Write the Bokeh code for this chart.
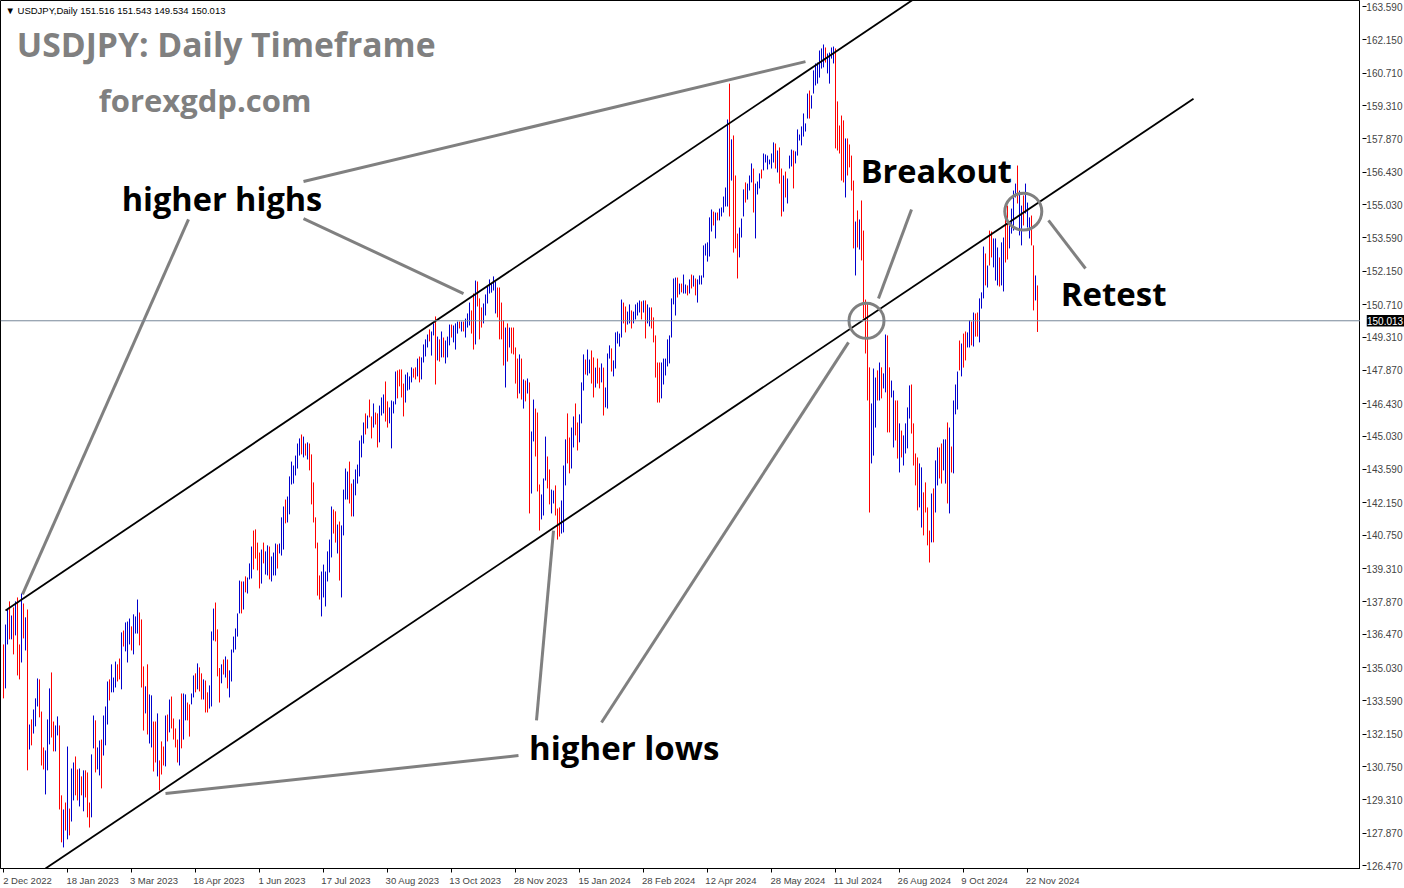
from bokeh.plotting import figure
from bokeh.layouts import row
from bokeh.models import (Range1d, FixedTicker, Span, Label, NumeralTickFormatter,
                          ColumnDataSource)
from bokeh.core.properties import value
from bokeh.embed import file_html
from bokeh.resources import INLINE

# ---------------- data ----------------
HIGH = [
    136.03,136.89,137.54,137.89,137.28,137.63,137.89,138.06,136.03,138.23,
    137.80,137.20,137.54,132.57,132.79,133.22,133.70,134.56,134.52,133.13,
    131.58,131.45,132.79,134.13,134.82,132.70,132.53,132.92,132.53,129.51,
    128.90,129.20,131.62,128.94,130.67,130.93,131.19,130.63,130.67,130.33,
    130.59,130.59,130.50,129.20,131.28,132.96,132.75,131.58,131.88,131.92,
    132.96,133.35,134.43,134.52,135.17,134.60,135.29,135.17,135.42,136.55,
    136.63,136.98,137.02,137.15,136.81,137.33,137.24,137.97,137.41,137.11,
    135.08,134.22,135.17,133.87,133.83,132.70,132.70,133.05,131.02,131.84,
    131.62,132.96,133.00,133.65,133.78,132.83,132.40,131.92,132.79,133.91,
    133.91,133.87,133.52,133.44,133.91,134.69,134.78,135.21,135.04,134.78,
    134.52,134.47,133.96,134.26,136.59,137.58,137.84,136.68,135.01,135.17,
    135.38,135.51,135.38,134.91,135.81,136.37,136.72,137.37,138.79,138.75,
    138.75,138.97,138.92,139.53,140.26,140.95,141.00,140.43,140.00,140.13,
    140.43,140.05,140.31,140.26,139.83,140.00,140.39,140.35,140.39,141.52,
    141.99,142.29,142.42,143.29,143.93,143.76,144.19,144.71,144.93,145.10,
    145.01,144.71,144.76,144.71,144.24,143.03,141.52,140.43,139.01,139.18,
    139.48,139.18,140.05,140.56,141.99,141.86,141.78,141.21,141.34,141.17,
    142.72,143.63,143.50,143.93,142.98,143.16,143.59,143.80,144.84,145.06,
    145.62,146.01,145.92,146.61,145.88,146.44,146.05,146.01,146.35,146.70,
    146.83,147.39,146.53,146.27,146.57,146.53,147.82,147.87,147.91,147.91,
    147.30,147.69,147.78,147.61,148.00,147.95,148.00,148.38,148.47,148.43,
    148.99,149.21,149.42,149.64,149.55,149.90,150.20,149.33,149.21,149.55,
    149.29,149.16,149.33,149.85,149.85,149.81,149.90,149.98,149.98,149.98,
    149.98,150.11,150.33,150.80,150.46,151.19,151.75,151.71,150.98,150.59,
    150.76,151.15,151.49,151.80,151.62,151.93,151.71,151.45,151.45,150.80,
    150.03,149.72,149.90,149.72,149.72,149.72,148.86,148.38,148.56,148.38,
    147.48,147.43,147.52,147.35,145.23,146.61,146.22,146.05,142.94,142.51,
    143.20,145.01,144.15,143.59,142.72,142.68,142.90,141.90,141.95,142.25,
    143.76,144.89,146.01,144.97,145.40,145.88,146.44,145.62,145.97,147.35,
    148.56,148.34,148.77,148.34,148.73,148.43,147.99,148.38,147.99,148.17,
    147.99,147.13,148.60,148.95,148.82,148.30,149.51,149.55,149.46,150.93,
    150.80,150.63,150.41,150.72,150.46,150.41,150.72,150.80,150.89,150.85,
    150.89,150.89,150.72,150.59,150.59,150.16,149.38,148.21,148.21,148.21,
    148.38,148.38,149.21,149.38,150.98,151.84,151.88,151.88,151.62,151.62,
    152.01,151.58,151.54,151.80,152.01,151.97,151.84,151.80,151.97,151.97,
    153.27,153.35,153.40,154.48,154.82,154.73,154.69,154.69,154.86,154.91,
    155.38,155.77,158.71,160.26,157.85,158.02,156.29,153.78,154.04,154.43,
    155.69,155.99,155.94,156.29,156.81,156.59,155.94,156.03,156.38,156.55,
    157.24,157.20,157.15,156.98,157.24,157.72,157.67,157.37,157.50,156.59,
    156.29,156.46,156.16,157.15,157.41,157.37,157.33,158.28,158.06,158.41,
    158.97,158.54,159.83,159.96,159.75,160.83,161.13,161.17,161.69,161.78,
    161.95,161.82,161.56,161.60,161.82,161.86,161.78,159.49,158.45,158.88,
    158.67,157.89,157.89,157.63,157.15,156.07,154.30,154.78,154.39,155.21,
    153.91,150.93,150.76,148.00,146.44,147.95,147.56,147.87,148.21,148.00,
    147.74,149.42,149.38,148.00,147.43,147.00,146.57,146.57,145.58,145.27,
    145.06,145.58,146.27,147.22,147.26,145.58,144.28,144.11,143.85,143.68,
    142.60,143.03,141.95,140.95,142.55,142.77,143.98,144.54,144.54,144.71,
    144.89,144.89,145.62,145.40,144.58,146.57,147.26,147.82,149.16,149.03,
    149.46,149.55,149.51,150.03,149.98,150.37,150.33,150.37,150.98,151.24,
    153.22,152.92,152.40,153.91,153.87,153.57,153.57,153.18,152.75,153.40,
    153.61,154.69,154.99,154.22,154.86,155.64,155.94,156.72,155.64,154.99,
    155.43,155.94,155.12,154.48,154.56,153.27,151.97,151.54,
]
LOW = [
    133.70,134.13,136.03,136.25,136.25,135.60,136.42,134.69,134.52,135.25,
    136.29,135.77,130.59,131.49,131.67,132.18,132.49,133.35,132.88,130.80,
    130.63,129.55,130.59,131.71,132.01,131.41,131.41,132.10,128.90,127.48,
    127.26,127.99,127.61,127.78,128.38,129.29,129.51,129.29,129.03,129.51,
    128.82,129.42,128.56,128.12,128.56,131.54,130.50,130.63,130.37,129.81,
    131.23,131.67,132.57,133.61,133.96,133.96,134.17,134.43,134.52,134.09,
    135.94,135.73,135.25,136.03,135.77,135.60,136.50,136.50,135.99,134.17,
    132.31,133.05,132.14,131.75,131.58,130.54,130.93,130.33,129.72,130.41,
    130.80,130.76,131.84,132.23,132.40,131.92,131.58,130.93,130.80,131.54,
    131.92,132.75,132.75,132.05,133.44,133.74,133.96,134.09,134.00,133.65,
    133.65,133.09,133.09,133.26,133.35,136.20,136.16,134.65,133.52,134.35,
    134.73,134.60,134.13,133.74,134.43,135.68,135.81,136.37,137.37,137.37,
    137.54,138.28,138.23,138.84,138.88,139.27,139.74,139.23,138.45,138.66,
    139.53,139.05,139.01,138.84,138.75,139.01,139.01,139.31,139.96,139.87,
    140.13,141.26,141.30,141.65,142.94,142.98,143.33,143.63,144.19,144.24,
    144.11,144.19,144.02,143.55,142.08,141.30,140.18,138.14,137.97,137.24,
    138.06,137.67,138.75,139.14,139.79,140.82,140.43,139.96,138.79,138.06,
    140.74,142.29,142.29,142.12,141.56,141.56,142.47,142.98,143.29,144.11,
    144.71,145.10,145.36,145.84,144.93,145.40,145.53,144.54,144.76,145.92,
    146.01,145.66,145.40,145.58,144.50,146.01,146.40,146.66,147.18,146.70,
    145.88,146.48,147.00,147.04,147.35,147.56,147.48,147.61,147.35,147.48,
    148.21,148.47,148.86,149.12,148.51,149.38,147.26,148.30,148.25,148.43,
    148.43,148.17,148.43,148.95,149.29,149.08,148.77,149.46,149.68,149.55,
    149.55,149.29,149.72,149.81,149.46,148.77,148.99,150.63,149.21,149.72,
    149.90,150.24,150.76,151.19,151.23,151.32,150.33,150.16,149.21,149.21,
    148.08,147.13,148.25,148.86,148.60,148.56,147.30,146.66,146.87,146.61,
    146.22,146.53,146.87,141.69,142.55,144.80,144.15,142.64,140.95,141.43,
    141.60,143.11,142.77,142.08,141.69,142.12,141.60,140.56,140.69,140.82,
    140.87,142.90,143.85,143.42,143.63,144.54,145.06,144.41,144.76,145.58,
    147.00,147.69,147.65,147.74,147.30,146.70,147.13,147.30,147.09,147.35,
    145.92,146.27,146.22,148.38,147.82,147.61,147.95,149.03,148.90,149.29,
    149.90,149.51,149.85,149.90,149.68,149.90,150.07,150.24,150.37,150.07,
    150.37,149.25,149.90,149.77,149.68,149.08,147.56,146.48,146.48,146.66,
    147.26,147.65,148.04,148.17,149.29,150.72,150.24,151.02,151.15,151.24,
    151.19,151.19,151.11,151.19,151.41,151.49,151.11,150.80,151.58,151.58,
    151.88,152.83,152.57,152.79,153.87,154.13,153.57,154.35,154.35,154.52,
    154.69,154.95,154.95,154.52,156.07,152.96,153.14,151.84,152.75,153.61,
    154.52,155.12,155.25,155.64,155.99,154.69,153.57,155.47,155.73,156.16,
    156.51,156.85,156.55,156.77,156.59,156.85,156.59,156.42,155.94,154.52,
    154.73,155.34,155.08,156.59,156.68,155.73,156.81,157.15,157.80,157.59,
    157.97,158.19,158.75,158.75,159.18,159.83,160.18,160.26,160.52,160.91,
    160.96,161.17,160.70,160.26,161.34,161.13,157.46,157.37,157.24,156.07,
    155.99,155.34,156.29,156.64,155.64,153.14,151.97,153.18,153.09,152.62,
    150.11,148.60,146.57,141.73,143.85,144.19,145.40,146.57,146.57,146.66,
    147.09,146.92,145.19,145.19,146.70,144.54,144.84,144.06,143.46,144.11,
    143.76,144.28,144.50,145.79,145.14,143.76,142.90,141.82,141.95,141.08,
    140.74,141.73,140.31,139.57,140.44,140.44,141.73,142.90,143.20,142.98,
    143.55,142.98,142.12,141.69,143.46,143.42,145.97,146.18,147.87,147.61,
    147.99,148.30,148.86,148.86,148.95,148.90,149.33,149.33,149.08,150.54,
    150.98,151.54,151.45,152.40,152.75,152.32,151.75,151.54,151.49,151.54,
    151.28,152.53,152.66,153.14,153.78,153.91,155.34,155.08,153.70,153.27,
    154.13,154.65,154.04,153.57,153.27,150.46,150.89,149.53,
]
# u = bullish bar (blue), d = bearish bar (red)
DIRECTION = (
    "duudududdu dududuuudd duuudduudd ududuuddud uddduuduud "
    "uuuduuuddu duuuduuudd duduuddudd dududdddud uudduududd "
    "udduuudddu duduuuuuud uduuuddddu duuduuuduu uduuuuuuud "
    "ududdddddu uuuuuddudu uuudduuuuu ududdudduu udduuuuddd "
    "duuuuddudu uuuduududu duuuduuudu duuudduddd uuuuuuuddd "
    "dududdddud ududuudddu uudduudddu uudduudduu uduudduddu "
    "duuuduuuuu dduuduuuud uduudddddu uuuuuuudud uudududuuu "
    "uuuuududuu uuududdduu uduuuduuud uuuuuududd uduuuduuuu "
    "uuuduuuuuu uduuuudddd duddddudud dddduuudud uudduuddud "
    "uuuudddduu dddduduudd uududuuudu dduududduu ududduuudu "
    "udduuuuduu duuuddud"
).replace(" ", "")

CLOSE_LAST = 150.013
HEADER = "\u25bc USDJPY,Daily  151.516 151.543 149.534 150.013"

PRICE_TICKS = [163.59, 162.15, 160.71, 159.31, 157.87, 156.43, 155.03, 153.59,
               152.15, 150.71, 149.31, 147.87, 146.43, 145.03, 143.59, 142.15,
               140.75, 139.31, 137.87, 136.47, 135.03, 133.59, 132.15, 130.75,
               129.31, 127.87, 126.47]
DATE_LABELS = ["2 Dec 2022", "18 Jan 2023", "3 Mar 2023", "18 Apr 2023", "1 Jun 2023",
               "17 Jul 2023", "30 Aug 2023", "13 Oct 2023", "28 Nov 2023", "15 Jan 2024",
               "28 Feb 2024", "12 Apr 2024", "28 May 2024", "11 Jul 2024", "26 Aug 2024",
               "9 Oct 2024", "22 Nov 2024"]
DATE_BARS = [32 * k for k in range(len(DATE_LABELS))]

# analyst drawings (bar index, price)
CHANNEL_UPPER = [(1, 137.50), (460, 164.19)]
CHANNEL_LOWER = [(21, 126.35), (595, 159.61)]
POINTERS = [  # gray arrows from the labels
    [(92.5, 154.39), (9.5, 138.19)],
    [(150, 156.03), (401, 161.21)],
    [(150, 154.43), (230, 151.19)],
    [(266.5, 132.75), (275, 140.95)],
    [(299, 132.66), (422.5, 149.08)],
    [(81, 129.59), (257.5, 131.23)],
    [(437.5, 150.98), (454, 154.82)],
    [(522.5, 154.35), (541, 152.27)],
]
CIRCLES = [(431.5, 150.01), (509.9, 154.73)]
TEXTS = [  # text, bar, price, size, color
    ("USDJPY: Daily Timeframe", 6.6, 161.99, "33.7px", "#808080"),
    ("forexgdp.com", 47.6, 159.53, "31px", "#808080"),
    ("higher highs", 59.1, 155.30, "32.5px", "#000000"),
    ("Breakout", 428.6, 156.51, "32.5px", "#000000"),
    ("Retest", 528.6, 151.19, "33px", "#000000"),
    ("higher lows", 262.8, 131.58, "33px", "#000000"),
]

assert len(HIGH) == len(LOW) == len(DIRECTION), (len(HIGH), len(LOW), len(DIRECTION))

# ---------------- main chart ----------------
X0, X1 = -1.5, 678.5
yr = Range1d(126.35, 163.85)
p = figure(frame_width=1360, frame_height=868, output_backend="svg",
           toolbar_location=None, x_range=Range1d(X0, X1), y_range=yr,
           y_axis_location=None, min_border_left=0, min_border_top=0,
           min_border_right=0, min_border_bottom=0,
           background_fill_color="white", border_fill_color="white")
p.outline_line_color = "black"
p.outline_line_width = 1
p.grid.visible = False

idx = list(range(len(HIGH)))
colors = ["#0000CD" if d == "u" else "#FF0000" for d in DIRECTION]
src = ColumnDataSource(dict(x=idx, hi=HIGH, lo=LOW, c=colors))
p.segment(x0="x", y0="lo", x1="x", y1="hi", color="c", line_width=1, source=src)

p.add_layout(Span(location=CLOSE_LAST, dimension="width", line_color="#778899",
                  line_width=1))

for ln in (CHANNEL_UPPER, CHANNEL_LOWER):
    p.line([ln[0][0], ln[1][0]], [ln[0][1], ln[1][1]], line_color="black",
           line_width=1.8)

p.segment(x0=[a[0][0] for a in POINTERS], y0=[a[0][1] for a in POINTERS],
          x1=[a[1][0] for a in POINTERS], y1=[a[1][1] for a in POINTERS],
          line_color="#808080", line_width=3)

p.scatter([c[0] for c in CIRCLES], [c[1] for c in CIRCLES], marker="circle",
          size=[35, 37], fill_alpha=0, line_color="#808080", line_width=3)

for t, bx, py, fs, col in TEXTS:
    p.add_layout(Label(x=bx, y=py, text=t, text_font="Open Sans",
                       text_font_style="bold", text_font_size=fs, text_color=col,
                       text_baseline="middle", text_align="left"))

p.add_layout(Label(x=1.0, y=163.40, text=HEADER, text_font="Liberation Sans",
                   text_font_size="9.5px", text_color="black",
                   text_baseline="middle", text_align="left"))

# date labels start at their tick (MetaTrader style): pad with no-break spaces
FS = 9.5
CW = {"0": .556, "1": .556, "2": .556, "3": .556, "4": .556, "5": .556, "6": .556,
      "7": .556, "8": .556, "9": .556, " ": .278, "D": .722, "J": .5, "M": .833,
      "A": .667, "N": .722, "O": .778, "F": .611, "e": .556, "c": .5, "a": .556,
      "n": .556, "r": .333, "p": .556, "u": .556, "g": .556, "o": .556, "t": .278,
      "v": .5, "b": .556, "y": .5, "l": .222}


def padded(lbl, first):
    if first:
        return "\u00a0" + lbl
    w = sum(CW.get(ch, .55) for ch in lbl) * FS
    n = int(round((w - 3) / (0.278 * FS)))
    return "\u00a0" * n + lbl


xa = p.xaxis[0]
xa.ticker = FixedTicker(ticks=DATE_BARS)
xa.major_label_overrides = {b: padded(lab, k == 0)
                            for k, (b, lab) in enumerate(zip(DATE_BARS, DATE_LABELS))}
xa.major_label_text_font = "Liberation Sans"
xa.major_label_text_font_size = f"{FS}px"
xa.major_tick_out = 4
xa.major_tick_in = 0
xa.minor_tick_out = 0
xa.minor_tick_in = 0
xa.major_label_standoff = 2
xa.axis_line_color = "black"

# ---------------- price scale strip (axis labels + last-price box) ----------------
s = figure(frame_width=38, frame_height=868, output_backend="svg",
           toolbar_location=None, x_range=Range1d(0, 38), y_range=yr,
           x_axis_location=None, y_axis_location="left", min_border_left=6,
           min_border_top=0, min_border_right=0, min_border_bottom=8,
           background_fill_color="white", border_fill_color="white")
s.outline_line_color = None
s.grid.visible = False
sa = s.yaxis[0]
sa.ticker = FixedTicker(ticks=PRICE_TICKS)
sa.formatter = NumeralTickFormatter(format="0.000")
sa.major_label_text_font = "Liberation Sans"
sa.major_label_text_font_size = "10px"
sa.major_tick_out = 4
sa.major_tick_in = 0
sa.minor_tick_out = 0
sa.minor_tick_in = 0
sa.major_label_standoff = -40
sa.axis_line_color = None
sa.major_tick_line_color = "black"

s.quad(left=[0], right=[38], bottom=[CLOSE_LAST - 0.245], top=[CLOSE_LAST + 0.245],
       fill_color="black", line_color=None)
s.text(x=[0.5], y=[CLOSE_LAST], text=[f"{CLOSE_LAST:.3f}"], text_color="white",
       text_font=value("Liberation Sans"), text_font_size="10px",
       text_baseline="middle", text_align="left")

layout = row(p, s, spacing=0)
open("out.html", "w").write(file_html(layout, INLINE))
